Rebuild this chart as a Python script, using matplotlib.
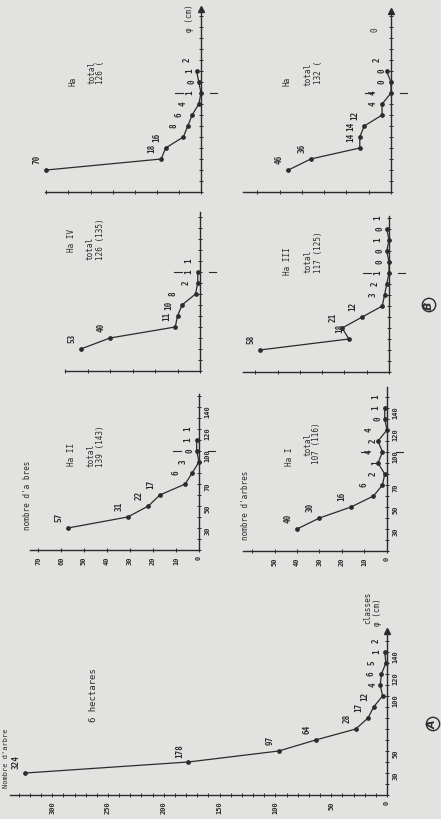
import matplotlib
matplotlib.use("Agg")
import matplotlib.pyplot as plt

# ---------------- data ----------------
diam_A = [30, 40, 50, 60, 70, 80, 90, 100, 110, 120, 130, 140]
trees_A = [324, 178, 97, 64, 28, 17, 12, 4, 6, 5, 1, 2]

diam_II = [30, 40, 50, 60, 70, 80, 90, 100, 110]
trees_II = [57, 31, 22, 17, 6, 3, 0, 1, 1]

diam_IV = [30, 40, 50, 60, 70, 80, 90, 100]
trees_IV = [53, 40, 11, 10, 8, 2, 1, 1]

diam_TL = [30, 40, 50, 60, 70, 80, 90, 100, 110, 120]
trees_TL = [70, 18, 16, 8, 6, 4, 1, 0, 1, 2]

diam_I = [30, 40, 50, 60, 70, 80, 90, 100, 110, 120, 130, 140]
trees_I = [40, 30, 16, 6, 2, 1, 4, 2, 4, 0, 1, 1]

diam_III = [30, 40, 50, 60, 70, 80, 90, 100, 110, 120, 130, 140]
trees_III = [58, 18, 21, 12, 3, 2, 1, 0, 0, 1, 0, 1]

diam_TR = [30, 40, 50, 60, 70, 80, 90, 100, 110, 120]
trees_TR = [46, 36, 14, 14, 12, 4, 4, 0, 0, 2]

count_ticks_A = [0, 50, 100, 150, 200, 250, 300]
count_ticks_small = [0, 10, 20, 30, 40, 50, 60, 70]
diam_ticks_A = [30, 50, 100, 120, 140]
diam_ticks_small = [30, 50, 70, 100, 120, 140]

# ---------------- style ----------------
W, H = 441, 820
BG = "#e2e2e0"
INK = "#2b2b2b"
MONO = "DejaVu Sans Mono"

fig = plt.figure(figsize=(W / 100, H / 100), dpi=100, facecolor=BG)


def make_ax(x0, x1, yb, yt, cscale, arrow=False):
    ax = fig.add_axes([x0 / W, 1 - yb / H, (x1 - x0) / W, (yb - yt) / H])
    ax.set_xlim((x1 - x0) / cscale, 0)
    ax.set_ylim(10, 10 + (yb - yt) / 1.1)
    ax.patch.set_alpha(0)
    for s in ("top", "left"):
        ax.spines[s].set_visible(False)
    for s in ("bottom", "right"):
        ax.spines[s].set_color(INK)
        ax.spines[s].set_linewidth(1.0)
    ax.yaxis.tick_right()
    ax.tick_params(colors=INK, labelsize=5, length=2.5, width=0.7,
                   direction="inout", pad=2.5)
    ax.tick_params(axis="x", labelrotation=90)
    ax.tick_params(axis="y", labelrotation=90)
    if arrow:
        ax.plot(1, 1, marker="^", ms=4, color=INK, transform=ax.transAxes,
                clip_on=False)
    return ax


def set_ticks(ax, cmajor, clabels, dmajor, dlabels, cstep):
    cmax = ax.get_xlim()[0]
    dmax = ax.get_ylim()[1]
    ct = [v for v in range(0, int(cmax) + 1, cstep)]
    ax.set_xticks(ct)
    if clabels:
        ax.set_xticklabels([str(v) if v in cmajor else "" for v in ct],
                           family=MONO, fontweight="bold")
    else:
        ax.set_xticklabels([])
    dt = [v for v in range(10, int(dmax) + 1, 10)]
    ax.set_yticks(dt)
    if dlabels:
        ax.set_yticklabels([str(v) if v in dmajor else "" for v in dt],
                           family=MONO, fontweight="bold")
    else:
        ax.set_yticklabels([])


def draw_series(ax, d, t, fs=5.5):
    ax.plot(t, d, color=INK, lw=0.9, marker="o", ms=2.4, clip_on=False)
    for di, ti in zip(d, t):
        ax.annotate(str(ti), (ti, di), xytext=(-9, 12),
                    textcoords="offset pixels", rotation=90,
                    ha="center", va="center", fontsize=fs,
                    family=MONO, fontweight="bold", color=INK)


def marker100(ax, cscale):
    u = 1.0 / cscale
    ax.plot([26 * u, 18 * u], [100, 100], color=INK, lw=0.8, clip_on=False)
    ax.plot([-9 * u, -16 * u], [100, 100], color=INK, lw=0.8, clip_on=False)


def ftext(x, ybot, s, size=5.5, **kw):
    fig.text(x / W, 1 - ybot / H, s, rotation=90, ha="center", va="bottom",
             fontsize=size, family=MONO, color=INK, **kw)


# ---------------- panel A ----------------
axA = make_ax(10, 387, 796, 632, 1.116, arrow=True)
set_ticks(axA, count_ticks_A, True, diam_ticks_A, True, 10)
draw_series(axA, diam_A, trees_A, fs=5.5)

ftext(6, 788, "Nombre d'arbre", 5)
ftext(93, 722, "6 hectares", 6.5)
ftext(368, 624, "classes", 5.5)
ftext(378, 626, "\u03c6 (cm)", 5.5)
fig.text(433 / W, 1 - 725 / H, "A", rotation=90, ha="center", va="center",
         fontsize=8, fontweight="bold", fontstyle="italic", color=INK,
         bbox=dict(boxstyle="circle,pad=0.15", fc="none", ec=INK, lw=1.0))
fig.text(429 / W, 1 - 306 / H, "B", rotation=90, ha="center", va="center",
         fontsize=8, fontweight="bold", fontstyle="italic", color=INK,
         bbox=dict(boxstyle="circle,pad=0.15", fc="none", ec=INK, lw=1.0))

# ---------------- Ha II ----------------
axII = make_ax(30, 199, 551, 395, 2.3)
set_ticks(axII, count_ticks_small, True, diam_ticks_small, True, 10)
draw_series(axII, diam_II, trees_II)
marker100(axII, 2.3)
ftext(28, 530, "nombre d'a bres", 5.5)
ftext(72, 466, "Ha II", 5.5)
ftext(91, 467, "total", 5.5)
ftext(100, 467, "139 (143)", 5.5)

# ---------------- Ha IV ----------------
axIV = make_ax(65, 200, 372, 213, 2.25)
set_ticks(axIV, [], False, [], False, 10)
draw_series(axIV, diam_IV, trees_IV)
marker100(axIV, 2.25)
ftext(72, 252, "Ha IV", 5.5)
ftext(90, 260, "total", 5.5)
ftext(100, 260, "126 (135)", 5.5)

# ---------------- top left ----------------
axTL = make_ax(45, 201, 193, 10, 2.21, arrow=True)
set_ticks(axTL, [], False, [], False, 10)
draw_series(axTL, diam_TL, trees_TL)
marker100(axTL, 2.21)
ftext(190, 32, "\u03c6 (cm)", 5.5)
ftext(73, 86, "Ha", 5.5)
ftext(92, 84, "total", 5.5)
ftext(100, 84, f"{sum(trees_TL)} (", 5.5)

# ---------------- Ha I ----------------
axI = make_ax(243, 387, 552, 388, 2.25)
set_ticks(axI, count_ticks_small[:6], True, diam_ticks_small, True, 10)
draw_series(axI, diam_I, trees_I)
marker100(axI, 2.25)
ftext(245, 540, "nombre d'arbres", 5.5)
ftext(289, 466, "Ha I", 5.5)
ftext(308, 456, "total", 5.5)
ftext(317, 464, "107 (116)", 5.5)

# ---------------- Ha III ----------------
axIII = make_ax(243, 389, 373, 217, 2.23)
set_ticks(axIII, [], False, [], False, 10)
draw_series(axIII, diam_III, trees_III)
marker100(axIII, 2.23)
ftext(287, 275, "Ha III", 5.5)
ftext(308, 273, "total", 5.5)
ftext(318, 273, "117 (125)", 5.5)

# ---------------- top right ----------------
axTR = make_ax(243, 391, 193, 12, 2.23, arrow=True)
set_ticks(axTR, [], False, [], False, 10)
draw_series(axTR, diam_TR, trees_TR)
marker100(axTR, 2.23)
ftext(375, 32, "0", 5.5)
ftext(287, 86, "Ha", 5.5)
ftext(308, 86, "total", 5.5)
ftext(318, 84, f"{sum(trees_TR)} (", 5.5)

fig.savefig("out.png", dpi=100, facecolor=BG)
